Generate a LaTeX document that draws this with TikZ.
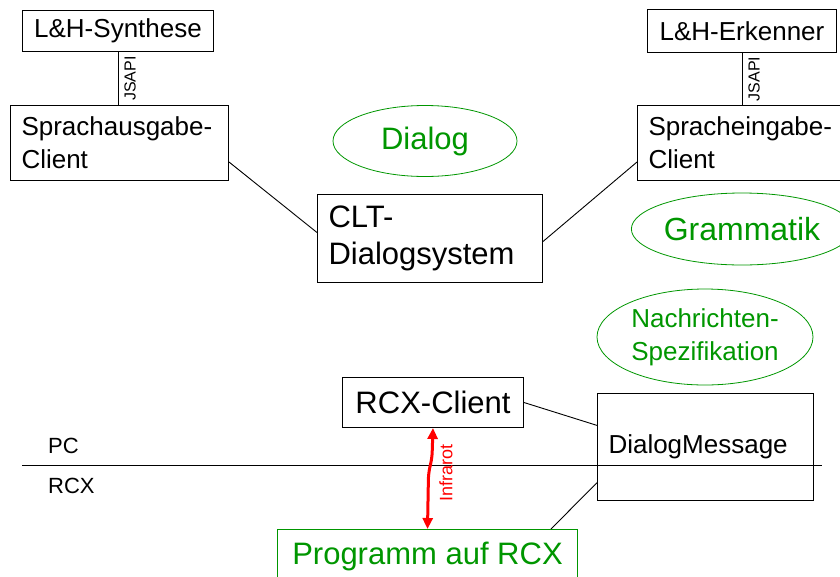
\documentclass[tikz,border=0pt]{standalone}
\usepackage{fontspec}
\setmainfont{Liberation Sans}
\usetikzlibrary{calc,shapes.geometric,arrows.meta}
\definecolor{dlggreen}{RGB}{0,150,0}
\newcommand\fnorm{\fontsize{26}{33}\selectfont}
\newcommand\fbig{\fontsize{31}{37}\selectfont}
\newcommand\fside{\fontsize{22}{26}\selectfont}
\newcommand\ftiny{\fontsize{16}{18}\selectfont}
\newcommand\finfra{\fontsize{18}{20}\selectfont}
\tikzset{
	box/.style={draw, line width=1pt, anchor=north west, inner xsep=11pt, inner ysep=0pt},
	greenbox/.style={box, draw=dlggreen, text=dlggreen},
	bubble/.style={ellipse, draw=dlggreen, line width=0.8pt, text=dlggreen, inner sep=0pt, align=center},
	conn/.style={line width=0.9pt},
	infra/.style={red, line width=3pt, rounded corners=6pt, {Triangle[length=11pt,width=10pt]}-{Triangle[length=11pt,width=10pt]}}
}

\begin{document}
\begin{tikzpicture}[x=1pt,y=-1pt]
			%%%%% START %%%%%
			\useasboundingbox (0,0) rectangle (840,576);
			
			\node[box, minimum width=191pt, minimum height=41pt, font=\fnorm] (synth) at (22,10) {L\&H-Synthese};
			\node[box, minimum width=189pt, minimum height=43pt, font=\fnorm] (erk) at (647,9) {L\&H-Erkenner};
			
			\node[box, minimum width=218pt, minimum height=75pt, text width=196pt, align=left, font=\fnorm] (ausgabe) at (10,105) {Sprachausgabe-\\Client};
			\node[box, minimum width=215pt, minimum height=75pt, text width=193pt, align=left, font=\fnorm] (eingabe) at (637,105) {Spracheingabe-\\Client};
			
			\node[box, minimum width=225pt, minimum height=88pt, text width=203pt, align=left, font=\fbig] (clt) at (317,194) {CLT-\\Dialogsystem};
			\node[box, minimum width=181pt, minimum height=50pt, font=\fbig] (rcx) at (342,377) {RCX-Client};
			\node[box, minimum width=216pt, minimum height=107pt, text width=194pt, align=left, font=\fnorm] (dm) at (597,393) {DialogMessage};
			\node[greenbox, minimum width=300pt, minimum height=54pt, font=\fbig] (prog) at (277,529) {Programm auf RCX};
			
			\node[bubble, minimum width=184pt, minimum height=71pt, font=\fbig] (dialog) at (425,141) {Dialog};
			\node[bubble, minimum width=194pt, minimum height=72pt, font=\fontsize{32}{37}\selectfont] (gram) at (742,229) {Grammatik};
			\node[bubble, minimum width=216pt, minimum height=96pt, font=\fnorm] (spec) at (705,337) {Nachrichten-\\Spezifikation};
			
			% PC / RCX Grenze
			\coordinate (sepL) at (22,465);
			\coordinate (sepR) at (822,465);
			\draw[conn] (sepL) -- (sepR);
			\node[anchor=base west, inner sep=0pt, font=\fside] (pc) at (48,453) {PC};
			\node[anchor=base west, inner sep=0pt, font=\fside] (rcxside) at (48,493) {RCX};
			
			\draw[conn] (synth.south) -- (synth.south |- ausgabe.north) node[midway, rotate=90, anchor=north, inner sep=6pt, font=\ftiny] {JSAPI};
			\draw[conn] (erk.south) -- (erk.south |- eingabe.north) node[midway, rotate=90, anchor=north, inner sep=6pt, font=\ftiny] {JSAPI};
			
			\draw[conn] ($(ausgabe.east)!0.5!(ausgabe.south east)$) -- ($(clt.west)+(0,-6)$);
			\draw[conn] ($(clt.east)+(0,3)$) -- ($(eingabe.west)!0.5!(eingabe.south west)$);
			\draw[conn] ($(clt.south)+(-8,0)$) -- ($(clt.south)+(-8,0)$ |- rcx.north);
			\draw[conn] (rcx.east) -- ($(dm.north west)!0.6!(dm.west)$);
			\draw[conn] ($(dm.west)!0.66!(dm.south west)$) -- ($(prog.north east)+(-27,0)$);
			
			\draw[infra] (rcx.south) -- ($(rcx.south)+(-1,30)$) -- ($(prog.north)+(1,-56)$) -- (prog.north);
			\node[rotate=90, red, inner sep=0pt, font=\finfra] (infralbl) at (446,473) {Infrarot};
			
			%%%%% END %%%%%
		\end{tikzpicture}
\end{document}
